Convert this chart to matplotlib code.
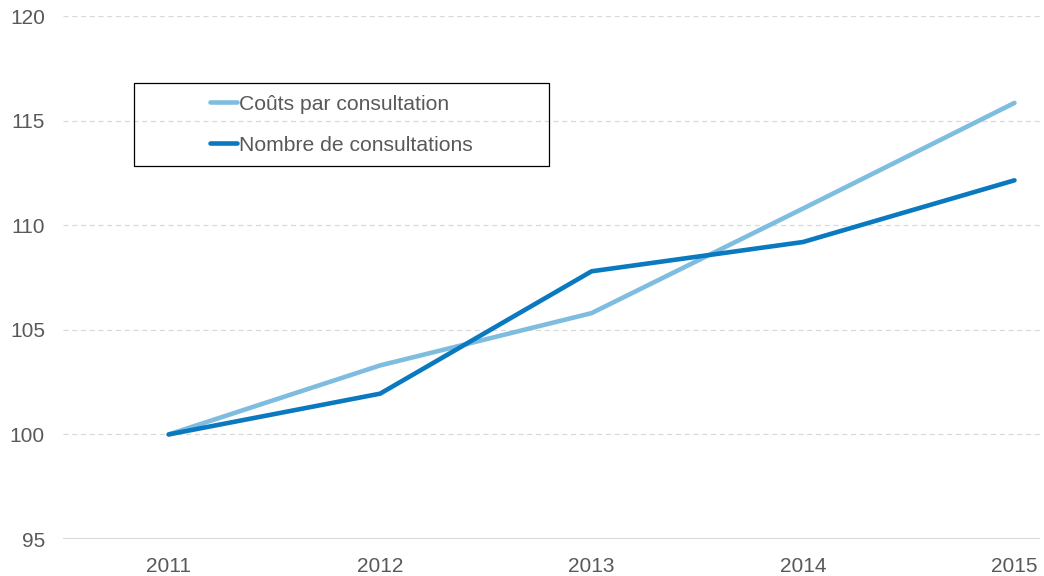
import matplotlib.pyplot as plt
from matplotlib.patches import Rectangle

annees = ['2011', '2012', '2013', '2014', '2015']
couts = [100, 103.3, 105.8, 110.8, 115.85]
nombre = [100, 101.95, 107.8, 109.2, 112.15]

gris = '#595959'
plt.rcParams['font.family'] = ['Liberation Sans', 'DejaVu Sans']

fig = plt.figure(figsize=(10.44, 5.76), dpi=100)
ax = fig.add_axes([0.0603, 0.0642, 0.9357, 0.9078])

x = range(len(annees))
ax.plot(x, couts, color='#7fbde0', lw=3.3, solid_capstyle='round', label='Coûts par consultation')
ax.plot(x, nombre, color='#0a79bf', lw=3.3, solid_capstyle='round', label='Nombre de consultations')

ax.set_xlim(-0.5, 4.12)
ax.set_ylim(95, 120)
ax.set_yticks([95, 100, 105, 110, 115, 120])
ax.set_xticks(list(x))
ax.set_xticklabels(annees)
ax.tick_params(length=0, labelsize=15, colors=gris, pad=13)
ax.tick_params(axis='y', pad=13)

# grille pointillée, ligne de base pleine
for v in [100, 105, 110, 115, 120]:
    ax.axhline(v, color='#d9d9d9', lw=0.9, ls=(0, (4, 3)), zorder=0)
ax.axhline(95, color='#d9d9d9', lw=1.5, zorder=0)
for s in ax.spines.values():
    s.set_visible(False)

# cadre de la légende
ax.add_patch(Rectangle((0.0727, 0.713), 0.4248, 0.159, transform=ax.transAxes,
                       fill=False, edgecolor='black', lw=0.9, zorder=5))
leg = ax.legend(loc='center', bbox_to_anchor=(0.285, 0.7925), frameon=False,
                fontsize=15.2, handlelength=1.3, handletextpad=0.1, labelspacing=1.05)
for t in leg.get_texts():
    t.set_color(gris)

fig.savefig('out.png')
